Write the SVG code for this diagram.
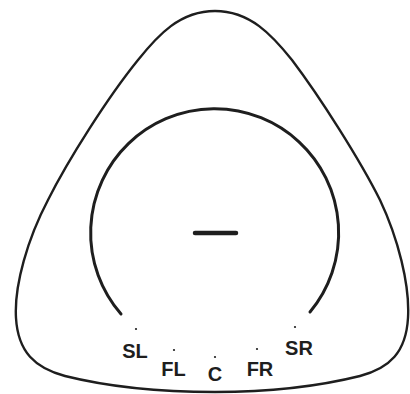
<svg xmlns="http://www.w3.org/2000/svg" width="410" height="394" viewBox="0 0 410 394">
<style>
.line{fill:none;stroke:#1e1e1e;stroke-linecap:round}
.lbl{font-family:"Liberation Sans",Arial,sans-serif;font-weight:700;font-size:20px;fill:#1e1e1e;text-anchor:middle}
.dot{fill:#1e1e1e}
</style>
<rect width="410" height="394" fill="#fff"/>
<g id="outer">
<path class="line" stroke-width="2.4" d="M215,11 C250,11 272,35 292,60 C320,97 360,160 380,200 C398,238 410,285 408,318 C406,352 390,368 360,376 C320,386 270,392 215,392 C160,392 105,386 65,376 C35,368 18,352 16,318 C14,285 28,238 48,200 C68,160 108,97 138,60 C158,35 180,11 215,11 Z"/>
</g>
<g id="inner">
<path class="line" stroke-width="3" d="M121,314 A124,124 0 1 1 310,312"/>
</g>
<g id="dash">
<line class="line" stroke-width="4.5" stroke-linecap="butt" x1="195" y1="233" x2="236" y2="233"/>
</g>
<g id="SL"><circle class="dot" cx="136" cy="329" r="1.1"/><text class="lbl" x="135" y="357.5">SL</text></g>
<g id="FL"><circle class="dot" cx="174" cy="350" r="1.1"/><text class="lbl" x="173.5" y="375.5">FL</text></g>
<g id="C"><circle class="dot" cx="215" cy="357" r="1.1"/><text class="lbl" x="215" y="381">C</text></g>
<g id="FR"><circle class="dot" cx="257" cy="349" r="1.1"/><text class="lbl" x="260" y="375.5">FR</text></g>
<g id="SR"><circle class="dot" cx="295" cy="327" r="1.1"/><text class="lbl" x="299" y="355">SR</text></g>
</svg>
